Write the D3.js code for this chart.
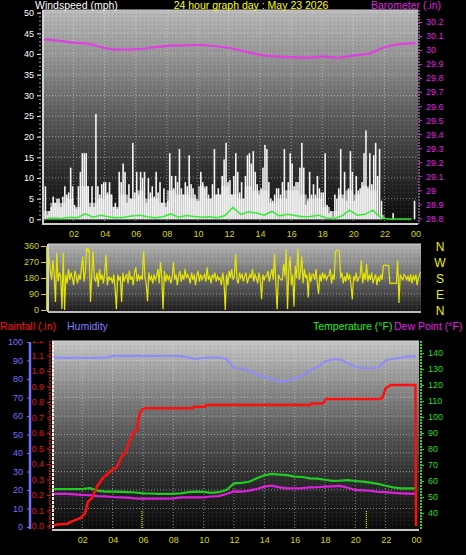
<!DOCTYPE html>
<html><head><meta charset="utf-8">
<script src="https://cdn.jsdelivr.net/npm/d3@7/dist/d3.min.js"></script>
<style>body{margin:0;background:#000}svg{display:block}</style>
</head><body><svg id="c" width="466" height="555"></svg>
<script>
// ---------- DATA ----------
const hourTicks = [2,4,6,8,10,12,14,16,18,20,22,24];
const hourLabels = ["02","04","06","08","10","12","14","16","18","20","22","00"];
const windTicks = [0,5,10,15,20,25,30,35,40,45,50];
const baroTicks = [28.8,28.9,29,29.1,29.2,29.3,29.4,29.5,29.6,29.7,29.8,29.9,30,30.1,30.2];
const dirTicks = [0,90,180,270,360];
const dirLetters = ["N","W","S","E","N"];
const humTicks = [0,10,20,30,40,50,60,70,80,90,100];
const rainTicks = [0,0.1,0.2,0.3,0.4,0.5,0.6,0.7,0.8,0.9,1,1.1,1.2];
const tempTicks = [40,50,60,70,80,90,100,110,120,130,140];

// wind gusts, 8 per hour (mph)
const windGust = [
 0,8,1,2,3,5.5,4,5,
 5,3,5.5,8,6,6.5,12.5,8,
 3.5,2.5,8,11.5,16,16,16,8,
 3,8,3,25.5,8,6,8.5,9,
 9,6.5,9,6,3,4,2.5,11.5,
 9,13.5,11.5,4,8.5,5,18.5,6.5,
 11.5,6,11.5,10,11.5,4,10,6.5,
 8,5.5,11.5,6.5,9,4,7.5,3,
 4.5,16,10.5,7.5,10.5,9,17,7.5,
 6,9,8,15.5,8.5,7.5,6,4.5,
 4.5,11.5,9,7.5,8,6,5,8.5,
 17,6,7.5,6,10.5,14.5,18.5,9,
 9.5,6,10.5,16,11.5,6.5,9,5,
 10.5,15.5,16,13.5,16.5,11.5,8.5,6,
 7.5,12.5,18,17,9,5,4.5,6,
 7.5,7.5,6,9,17,5,9,16,
 13.5,8,9,9,12.5,18.5,12.5,3.5,
 4.5,11.5,6,8.5,6,10.5,7.5,6.5,
 6.5,16,3.5,1.5,2,0.5,6,5,
 7.5,17,5,11.5,4.5,7.5,16.5,11.5,
 4.5,10.5,7,7.5,9,16,21.5,7.5,
 16,8.5,15.5,18.5,10.5,17,4.5,0,
 0,0,0,0,1.5,0,0,0,
 0,0,0,0,0,0,0,4.5];
// wind speed (grey bars), 2 per hour
const windSpeed = [2,4,4,5,3,8,4,5,6,3,6,5,7,5,5,4,7,6,6,5,8,5,6,8,6,5,8,7,7,4,5,7,7,6,5,5,3,2,6,7,6,8,7,1,0,0,0,0];
// average wind (green line), 2 per hour
const windAvg = [0.2,0.3,0.2,0.5,0.4,1.3,0.5,1.0,0.6,0.4,0.5,0.8,1.0,0.6,0.4,0.6,1.3,0.5,0.9,0.7,0.5,0.6,0.4,0.9,2.9,1.2,1.8,1.5,1.0,1.9,0.8,1.2,0.9,0.6,0.7,1.0,0.3,0.2,0.8,2.2,1.0,1.2,2.2,0.4,0.1,0.1,0.1,0.1];
// barometer hourly (in)
const baro = [30.077,30.068,30.053,30.044,30.014,30.003,30.005,30.017,30.03,30.034,30.036,30.029,30.015,29.99,29.965,29.955,29.95,29.944,29.955,29.945,29.962,29.975,30.02,30.043,30.05];
// wind direction, 12 per hour (degrees)
const windDir = [
 300,220,170,280,200,45,320,160,210,190,5,320,
 0,200,150,230,170,210,180,140,220,190,150,200,
 170,230,300,160,210,350,330,340,45,200,330,180,
 160,210,130,230,170,200,150,210,310,140,190,170,
 180,150,200,120,5,200,170,190,45,210,160,190,
 200,150,220,170,190,140,210,240,160,200,170,190,
 170,335,190,150,50,210,170,190,150,200,170,190,
 230,150,270,180,5,220,160,200,170,190,150,180,
 270,170,200,140,190,220,160,200,170,230,180,200,
 180,150,210,170,200,140,190,220,160,200,170,190,
 200,160,240,170,190,150,200,180,210,160,190,170,
 180,140,210,160,0,200,140,220,180,230,170,190,
 315,170,150,210,180,200,160,190,210,150,180,200,
 180,230,160,200,180,150,210,170,60,200,170,190,
 190,220,160,200,230,170,315,140,5,200,180,170,
 170,260,190,340,5,220,300,140,200,20,250,180,
 345,170,210,300,150,230,180,200,70,210,160,200,
 200,170,230,150,90,200,160,210,180,200,170,190,
 190,230,150,200,170,330,335,335,330,180,210,150,
 190,160,210,170,200,140,60,190,170,210,160,180,
 190,280,150,210,170,260,160,200,170,210,150,180,
 200,140,190,160,200,170,250,252,252,250,250,150,
 150,152,150,150,150,280,40,200,180,170,200,190,
 170,190,160,200,150,190,170,200,140,180,200,215];
// rainfall cumulative (in) at given hours
const rainHours = [0,0.33,1,1.32,1.85,2.17,2.37,2.64,2.97,3.36,3.82,4.28,4.61,4.81,5.01,5.34,5.6,5.67,5.73,5.93,6.13,9.3,9.36,10.1,10.15,17.0,17.1,17.86,18.06,21.6,21.8,22.0,22.35,23.96,24];
const rainIn    = [0,0.01,0.015,0.03,0.05,0.08,0.157,0.18,0.255,0.31,0.35,0.38,0.45,0.47,0.52,0.6,0.62,0.68,0.71,0.75,0.76,0.76,0.77,0.77,0.78,0.78,0.79,0.79,0.82,0.82,0.83,0.89,0.91,0.91,0];
// half-hourly humidity (%), temperature and dew point (F)
const humidity = [91.5,91.6,91.3,91.6,91.5,91.4,91.6,91.5,92.4,92.6,92.5,92.6,92.5,92.6,92.5,92.6,92.5,92.4,91.6,90.8,91.5,91.6,91.6,90.8,86,85.5,84.5,82.5,81,80,78.5,79,80,82,84.5,86.5,89.5,90.6,90.6,88.5,86.6,85.8,85.8,86.2,90,91,91.5,92.3,92];
const temperature = [55,55,55,55,55,55.5,54,53.4,53.3,53.2,53,52.8,52.3,52.2,51.9,51.9,51.9,52.3,53,53.3,53.2,52.6,53,54.4,58.5,58.8,59.5,61.7,63.5,64.4,64,63.7,62.7,62.5,61.7,61.5,60.8,60.1,60.2,60.5,60,59.6,59,58.2,57,56,55.4,55.4,55.4];
const dewPoint = [51.9,51.9,51.9,51.6,51.3,51.2,50.6,50.4,50,49.8,49.6,49.2,49,49,49,49,49.2,49.8,49.8,49.8,49.8,50.3,50.6,51.9,53.5,53.3,54,55,56.5,57.1,56,55.4,55.4,55.6,56,56.1,56.5,56.7,56.9,55.8,54.4,54.2,53.9,53.2,53,52.6,52.3,52.1,51.9];
const sunTimes = [5.93,20.73];

// ---------- DRAW ----------
const svg = d3.select("#c");
const FONT = "'Liberation Sans', Arial, sans-serif";
svg.append("rect").attr("width",466).attr("height",555).attr("fill","#000");
const defs = svg.append("defs");
function grad(id, stops){
  const g = defs.append("linearGradient").attr("id",id).attr("x1",0).attr("y1",0).attr("x2",0).attr("y2",1);
  stops.forEach(s=>g.append("stop").attr("offset",s[0]).attr("stop-color",s[1]));
}
grad("gTop",[[0,"#b8b8b8"],[0.25,"#8e8e8e"],[0.5,"#5a5a5a"],[0.75,"#2e2e2e"],[1,"#0a0a0a"]]);
grad("gDir",[[0,"#b4b4b4"],[0.5,"#6a6a6a"],[1,"#1c1c1c"]]);
grad("gBot",[[0,"#c6c6c6"],[0.25,"#8a8a8a"],[0.5,"#555"],[0.75,"#2a2a2a"],[1,"#0a0a0a"]]);
const pat = defs.append("pattern").attr("id","dith").attr("width",4).attr("height",4).attr("patternUnits","userSpaceOnUse");
pat.append("rect").attr("x",0).attr("y",0).attr("width",1).attr("height",1).attr("fill","rgba(255,255,255,0.10)");
pat.append("rect").attr("x",2).attr("y",2).attr("width",1).attr("height",1).attr("fill","rgba(0,0,0,0.12)");

function clip(id,x,y,w,h){defs.append("clipPath").attr("id",id).append("rect").attr("x",x).attr("y",y).attr("width",w).attr("height",h);}

function styleAxis(g,color,size){
  g.attr("font-family",FONT).attr("font-size",size);
  g.selectAll("path.domain").attr("stroke",color);
  g.selectAll(".tick line").attr("stroke",color);
  g.selectAll(".tick text").attr("fill",color);
}
function grid(g, xs, ys, x0,x1,y0,y1){
  g.selectAll(null).data(ys).enter().append("line").attr("x1",x0).attr("x2",x1).attr("y1",d=>d).attr("y2",d=>d)
   .attr("stroke","rgba(225,225,225,0.55)").attr("stroke-dasharray","1,2");
  g.selectAll(null).data(xs).enter().append("line").attr("y1",y0).attr("y2",y1).attr("x1",d=>d).attr("x2",d=>d)
   .attr("stroke","rgba(225,225,225,0.55)").attr("stroke-dasharray","1,2");
}

// ===== TOP PANEL =====
const TP = {x0:43,x1:418,y0:10,y1:224};
const xTop = d3.scaleLinear().domain([0,24]).range([42.5,415.5]);
const yWind = d3.scaleLinear().domain([0,50]).range([219.3,12.7]);
const yBaro = d3.scaleLinear().domain([28.8,30.2]).range([218.3,22]);
svg.append("rect").attr("x",TP.x0).attr("y",TP.y0).attr("width",TP.x1-TP.x0).attr("height",TP.y1-TP.y0).attr("fill","url(#gTop)");
svg.append("rect").attr("x",TP.x0).attr("y",TP.y0).attr("width",TP.x1-TP.x0).attr("height",TP.y1-TP.y0).attr("fill","url(#dith)");
clip("cTop",TP.x0,TP.y0,TP.x1-TP.x0,TP.y1-TP.y0);
const gTop = svg.append("g").attr("clip-path","url(#cTop)");
grid(gTop, hourTicks.slice(0,-1).map(xTop), windTicks.slice(1).map(yWind), TP.x0,TP.x1,TP.y0,TP.y1);
const halfW = (xTop(0.5)-xTop(0));
gTop.selectAll("rect.ws").data(windSpeed).enter().append("rect").attr("class","ws")
  .attr("x",(d,i)=>xTop(i/2)).attr("width",halfW)
  .attr("y",d=>yWind(d)).attr("height",d=>yWind(0)-yWind(d)).attr("fill","#c4c4c4").attr("opacity",0.8);
gTop.selectAll("rect.wg").data(windGust).enter().append("rect").attr("class","wg")
  .attr("x",(d,i)=>xTop((i+0.5)/8)-0.8).attr("width",1.6)
  .attr("y",d=>yWind(d)).attr("height",d=>yWind(0)-yWind(d)).attr("fill","#f4f4f4");
gTop.append("line").attr("x1",TP.x0).attr("x2",TP.x1).attr("y1",221.5).attr("y2",221.5).attr("stroke","#000").attr("stroke-width",1);
gTop.append("path").datum(windAvg).attr("fill","none").attr("stroke","#33ee33").attr("stroke-width",1.5)
  .attr("d",d3.line().x((d,i)=>xTop((i+0.5)/2)).y(d=>yWind(d)));
gTop.append("path").datum(baro).attr("fill","none").attr("stroke","#e23ee2").attr("stroke-width",2.2)
  .attr("d",d3.line().x((d,i)=>xTop(i)).y(d=>yBaro(d)).curve(d3.curveMonotoneX));
svg.append("line").attr("x1",TP.x0).attr("x2",TP.x0).attr("y1",TP.y0).attr("y2",TP.y1+1).attr("stroke","#d0d0d0").attr("stroke-width",2);
svg.append("line").attr("x1",TP.x0).attr("x2",TP.x1).attr("y1",TP.y1).attr("y2",TP.y1).attr("stroke","#c8c8c8").attr("stroke-width",2);
svg.append("line").attr("x1",TP.x0).attr("x2",TP.x1).attr("y1",TP.y0).attr("y2",TP.y0).attr("stroke","#cfcfcf").attr("stroke-width",1);
const axW = svg.append("g").attr("transform","translate(41,0)")
  .call(d3.axisLeft(yWind).tickValues(windTicks).tickSize(4).tickPadding(3));
styleAxis(axW,"#ffffff",9); axW.select("path.domain").remove();
svg.append("g").selectAll("line").data(d3.range(0,51,1)).enter().append("line")
  .attr("x1",39).attr("x2",41).attr("y1",d=>yWind(d)).attr("y2",d=>yWind(d)).attr("stroke","#9a9a9a");
const axB = svg.append("g").attr("transform","translate(419,0)")
  .call(d3.axisRight(yBaro).tickValues(baroTicks).tickSize(3).tickPadding(4).tickFormat(d=>String(Math.round(d*10)/10)));
styleAxis(axB,"#e020e0",9);
axB.select("path.domain").attr("stroke","#f0a0f0").attr("stroke-dasharray","2,1").attr("d","M0,10V224");
const axX1 = svg.append("g").attr("transform","translate(0,231)")
  .call(d3.axisBottom(xTop).tickValues(hourTicks).tickSize(0).tickPadding(0).tickFormat((d,i)=>hourLabels[i]));
styleAxis(axX1,"#d8d800",9); axX1.select("path.domain").remove();
svg.append("text").attr("x",35).attr("y",9).attr("fill","#fff").attr("font-family",FONT).attr("font-size",10.5).text("Windspeed (mph)");
svg.append("text").attr("x",251).attr("y",9).attr("text-anchor","middle").attr("fill","#ffff00").attr("font-family",FONT).attr("font-size",10.5).text("24 hour graph day : May 23 2026");
svg.append("text").attr("x",371).attr("y",9).attr("fill","#e020e0").attr("font-family",FONT).attr("font-size",10.5).text("Barometer (.in)");

// ===== DIRECTION PANEL =====
const DP = {x0:48,x1:421,y0:244,y1:312};
const xDir = d3.scaleLinear().domain([0,24]).range([49,421]);
const yDir = d3.scaleLinear().domain([0,360]).range([310,246]);
svg.append("rect").attr("x",DP.x0).attr("y",DP.y0).attr("width",DP.x1-DP.x0).attr("height",DP.y1-DP.y0).attr("fill","url(#gDir)");
svg.append("rect").attr("x",DP.x0).attr("y",DP.y0).attr("width",DP.x1-DP.x0).attr("height",DP.y1-DP.y0).attr("fill","url(#dith)");
clip("cDir",DP.x0,DP.y0,DP.x1-DP.x0,DP.y1-DP.y0);
const gDir = svg.append("g").attr("clip-path","url(#cDir)");
grid(gDir, [], [90,180,270].map(yDir), DP.x0,DP.x1,DP.y0,DP.y1);
gDir.append("path").datum(windDir).attr("fill","none").attr("stroke","#e6e600").attr("stroke-width",1.2)
  .attr("d",d3.line().x((d,i)=>xDir(i*24/(windDir.length-1))).y(d=>yDir(d)));
svg.append("line").attr("x1",DP.x0).attr("x2",DP.x0).attr("y1",DP.y0).attr("y2",DP.y1).attr("stroke","#d0d0d0").attr("stroke-width",2);
svg.append("line").attr("x1",DP.x0).attr("x2",DP.x1).attr("y1",DP.y1).attr("y2",DP.y1).attr("stroke","#b8b8b8").attr("stroke-width",2);
svg.append("line").attr("x1",DP.x0).attr("x2",DP.x1).attr("y1",DP.y0).attr("y2",DP.y0).attr("stroke","#cfcfcf").attr("stroke-width",1);
const axD = svg.append("g").attr("transform","translate(46,0)")
  .call(d3.axisLeft(yDir).tickValues(dirTicks).tickSize(5).tickPadding(2));
styleAxis(axD,"#d0d020",9);
axD.select("path.domain").attr("stroke","#c8c800");
svg.append("g").selectAll("text").data(dirLetters).enter().append("text")
  .attr("x",440).attr("y",(d,i)=>yDir(dirTicks[4-i])+4.5).attr("text-anchor","middle")
  .attr("fill","#f0f000").attr("font-family",FONT).attr("font-size",12).text(d=>d);

// ===== BOTTOM PANEL =====
const BP = {x0:52,x1:419,y0:341,y1:530};
const xBot = d3.scaleLinear().domain([0,24]).range([52,416]);
const yHum = d3.scaleLinear().domain([0,100]).range([527,342]);
const yRain = d3.scaleLinear().domain([0,1.1]).range([526,355.5]);
const yTemp = d3.scaleLinear().domain([40,140]).range([513,353]);
svg.append("rect").attr("x",BP.x0).attr("y",BP.y0).attr("width",BP.x1-BP.x0).attr("height",BP.y1-BP.y0).attr("fill","url(#gBot)");
svg.append("rect").attr("x",BP.x0).attr("y",BP.y0).attr("width",BP.x1-BP.x0).attr("height",BP.y1-BP.y0).attr("fill","url(#dith)");
clip("cBot",BP.x0,BP.y0,BP.x1-BP.x0,BP.y1-BP.y0);
clip("cRainAx",0,341,60,200);
const gBot = svg.append("g").attr("clip-path","url(#cBot)");
grid(gBot, hourTicks.slice(0,-1).map(xBot), humTicks.slice(1,-1).map(yHum), BP.x0,BP.x1,BP.y0,BP.y1);
gBot.selectAll("line.sun").data(sunTimes).enter().append("line").attr("class","sun")
  .attr("x1",d=>xBot(d)).attr("x2",d=>xBot(d)).attr("y1",511).attr("y2",529)
  .attr("stroke","#e8e800").attr("stroke-dasharray","1,1").attr("stroke-width",1.2);
const halfHour = (d,i)=>xBot(i/2);
gBot.append("path").datum(humidity).attr("fill","none").attr("stroke","#8c8cff").attr("stroke-width",2)
  .attr("d",d3.line().x(halfHour).y(d=>yHum(d)));
gBot.append("path").datum(temperature).attr("fill","none").attr("stroke","#22cc22").attr("stroke-width",2.2)
  .attr("d",d3.line().x(halfHour).y(d=>yTemp(d)));
gBot.append("path").datum(dewPoint).attr("fill","none").attr("stroke","#dd22dd").attr("stroke-width",2.2)
  .attr("d",d3.line().x(halfHour).y(d=>yTemp(d)));
gBot.append("path").datum(rainIn).attr("fill","none").attr("stroke","#ff1010").attr("stroke-width",2.5)
  .attr("d",d3.line().x((d,i)=>xBot(rainHours[i])).y(d=>yRain(d)));
svg.append("line").attr("x1",BP.x0+1).attr("x2",BP.x0+1).attr("y1",BP.y0).attr("y2",BP.y1).attr("stroke","#f0f0f0").attr("stroke-width",2).attr("stroke-dasharray","3,1");
svg.append("line").attr("x1",BP.x0).attr("x2",BP.x1).attr("y1",BP.y1).attr("y2",BP.y1).attr("stroke","#c8c8c8").attr("stroke-width",2);
svg.append("line").attr("x1",BP.x0).attr("x2",BP.x1).attr("y1",BP.y0).attr("y2",BP.y0).attr("stroke","#d8d8d8").attr("stroke-width",1);
const axH = svg.append("g").attr("transform","translate(30,0)")
  .call(d3.axisLeft(yHum).tickValues(humTicks).tickSize(3).tickPadding(4));
styleAxis(axH,"#7070ff",9);
axH.select("path.domain").attr("stroke","#7070ff").attr("stroke-width",2.5).attr("d","M0,342V529");
const axRwrap = svg.append("g").attr("clip-path","url(#cRainAx)");
const axR = axRwrap.append("g").attr("transform","translate(50,0)")
  .call(d3.axisLeft(yRain).tickValues(rainTicks).tickSize(3).tickPadding(3));
styleAxis(axR,"#e01010",9);
axR.select("path.domain").attr("stroke","#e01010").attr("stroke-width",1.5).attr("stroke-dasharray","2,1").attr("d","M0,341V529");
const axT = svg.append("g").attr("transform","translate(421,0)")
  .call(d3.axisRight(yTemp).tickValues(tempTicks).tickSize(3).tickPadding(4));
styleAxis(axT,"#22dd22",9);
axT.select("path.domain").attr("stroke","#22dd22").attr("stroke-width",2).attr("stroke-dasharray","2,1").attr("d","M0,341V530");
const axX2 = svg.append("g").attr("transform","translate(0,537)")
  .call(d3.axisBottom(xBot).tickValues(hourTicks).tickSize(0).tickPadding(0).tickFormat((d,i)=>hourLabels[i]));
styleAxis(axX2,"#d8d800",9); axX2.select("path.domain").remove();
const t2 = [{t:"Rainfall (.in)",x:0,c:"#ff1010"},{t:"Humidity",x:67,c:"#8080ff"},{t:"Temperature (°F)",x:313,c:"#22ee22"},{t:"Dew Point (°F)",x:394,c:"#e020e0"}];
svg.append("g").selectAll("text").data(t2).enter().append("text").attr("x",d=>d.x).attr("y",330)
  .attr("fill",d=>d.c).attr("font-family",FONT).attr("font-size",10.5).text(d=>d.t);
</script></body></html>
